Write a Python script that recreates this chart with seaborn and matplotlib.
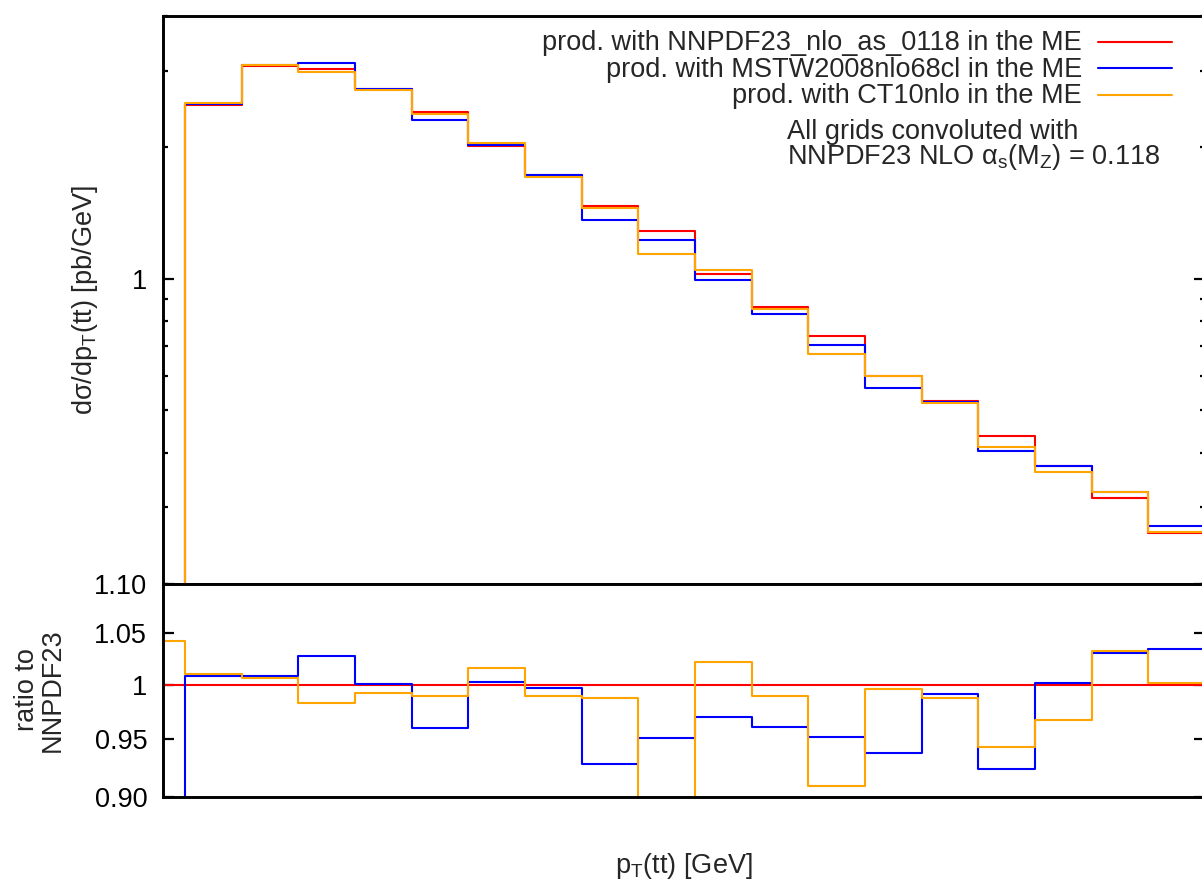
import numpy as np
import pandas as pd
import seaborn as sns
import matplotlib
matplotlib.use("Agg")
import matplotlib.pyplot as plt
from matplotlib.lines import Line2D
from matplotlib.ticker import FixedLocator, FixedFormatter, NullLocator, NullFormatter

# ---------------------------------------------------------------- data
# bin edges of the p_T(tt) histogram [GeV]
pt_edges = [0, 10, 20, 30, 40, 50, 60, 70, 80, 90, 100,
            110, 120, 130, 140, 150, 160, 170, 180, 190]

pdf_names = ["NNPDF23", "MSTW2008", "CT10"]
legend_labels = ["prod. with NNPDF23_nlo_as_0118 in the ME",
                 "prod. with MSTW2008nlo68cl in the ME",
                 "prod. with CT10nlo in the ME"]
line_colors = ["#ff0000", "#0000ff", "#ffa500"]

# d(sigma)/dp_T [pb/GeV] with NNPDF23 in the matrix element
xsec_nnpdf = [0.12, 2.50, 3.07, 3.03, 2.72, 2.41, 2.02, 1.73, 1.47, 1.29,
              1.025, 0.864, 0.741, 0.600, 0.526, 0.4375, 0.373, 0.315, 0.262]

# ratios of the other matrix-element PDFs to NNPDF23
ratio_mstw = [0.85, 1.0085, 1.0085, 1.0277, 1.0007, 0.9600, 1.0026, 0.9972,
              0.9279, 0.9515, 0.9700, 0.9609, 0.9524, 0.9381, 0.9915, 0.9238,
              1.0016, 1.0310, 1.0343]
ratio_ct10 = [1.0424, 1.0101, 1.0063, 0.9829, 0.9928, 0.9900, 1.0159, 0.9900,
              0.9881, 0.886, 1.0222, 0.9897, 0.9093, 0.9959, 0.9875, 0.9434,
              0.9672, 1.0326, 1.0016]

# ---------------------------------------------------------------- tables
nnpdf = np.array(xsec_nnpdf)
ratios = {
    "NNPDF23": np.ones_like(nnpdf),
    "MSTW2008": np.array(ratio_mstw),
    "CT10": np.array(ratio_ct10),
}

rows_xs, rows_ratio = [], []
for name in pdf_names:
    r = ratios[name]
    xs = nnpdf * r
    xs_steps = np.append(xs, xs[-1])
    r_steps = np.append(r, r[-1])
    for x, v, q in zip(pt_edges, xs_steps, r_steps):
        rows_xs.append({"pt": x, "value": v, "pdf": name})
        rows_ratio.append({"pt": x, "value": q, "pdf": name})
df_xs = pd.DataFrame(rows_xs)
df_ratio = pd.DataFrame(rows_ratio)

# ---------------------------------------------------------------- style
sns.set_theme(style="white")
plt.rcParams["font.family"] = ["Liberation Sans", "DejaVu Sans"]
plt.rcParams["mathtext.fontset"] = "custom"
plt.rcParams["mathtext.rm"] = "Liberation Sans"
plt.rcParams["mathtext.default"] = "regular"
plt.rcParams["axes.unicode_minus"] = False

FS = 19.5
W, H = 1202, 881
fig = plt.figure(figsize=(W / 100, H / 100), dpi=100)
fig.patch.set_facecolor("white")

left = 162.5 / W
width = (1205 - 162.5) / W
ax_top = fig.add_axes([left, (H - 584) / H, width, 568 / H])
ax_rat = fig.add_axes([left, (H - 796.7) / H, width, 212.7 / H])

palette = dict(zip(pdf_names, line_colors))
for ax, df in ((ax_top, df_xs), (ax_rat, df_ratio)):
    sns.lineplot(data=df, x="pt", y="value", hue="pdf", hue_order=pdf_names,
                 palette=palette, drawstyle="steps-post", estimator=None,
                 legend=False, linewidth=1.5, ax=ax)
    ax.set_yscale("log")
    ax.set_xlim(6, 190)
    ax.set_xlabel("")
    ax.set_ylabel("")
    ax.set_facecolor("white")
    for sp in ax.spines.values():
        sp.set_visible(True)
        sp.set_linewidth(2.1)
        sp.set_color("black")
    ax.tick_params(axis="x", which="both", bottom=False, top=False,
                   labelbottom=False)
    ax.tick_params(axis="y", which="both", direction="in", left=True,
                   right=True, labelright=False, labelsize=FS, pad=11,
                   width=1.6, colors="black")
    ax.tick_params(axis="y", which="major", length=7.7)
    ax.tick_params(axis="y", which="minor", length=3.6)

# upper panel: cross section
ax_top.set_ylim(0.2, 4.0)
ax_top.yaxis.set_major_locator(FixedLocator([1.0]))
ax_top.yaxis.set_major_formatter(FixedFormatter(["1"]))
ax_top.yaxis.set_minor_locator(FixedLocator(
    [0.2, 0.3, 0.4, 0.5, 0.6, 0.7, 0.8, 0.9, 2.0, 3.0, 4.0]))
ax_top.yaxis.set_minor_formatter(NullFormatter())

# lower panel: ratio
ax_rat.set_ylim(0.9, 1.1)
ax_rat.yaxis.set_major_locator(FixedLocator([0.90, 0.95, 1.0, 1.05, 1.10]))
ax_rat.yaxis.set_major_formatter(
    FixedFormatter(["0.90", "0.95", "1", "1.05", "1.10"]))
ax_rat.yaxis.set_minor_locator(NullLocator())

# axis titles
fig.text(85 / W, 1 - 300 / H, "dσ/dp$_T$(tt) [pb/GeV]", rotation=90,
         ha="center", va="center", fontsize=FS)
fig.text(40 / W, 1 - 690 / H, "ratio to\nNNPDF23", rotation=90,
         ha="center", va="center", fontsize=FS, linespacing=1.0)
fig.text(684 / W, 1 - 873 / H, "p$_T$(tt) [GeV]", ha="center",
         va="baseline", fontsize=FS)

# key: labels right-justified, line samples on the right
key_baselines = [50, 76.7, 103.3]
for label, color, yb in zip(legend_labels, line_colors, key_baselines):
    fig.text(1082 / W, 1 - yb / H, label, ha="right", va="baseline",
             fontsize=FS)
    yl = 1 - (yb - 8.5) / H
    fig.add_artist(Line2D([1098 / W, 1172 / W], [yl, yl], color=color,
                          linewidth=1.5, transform=fig.transFigure))

fig.text(787 / W, 1 - 138.5 / H, "All grids convoluted with", ha="left",
         va="baseline", fontsize=FS)
fig.text(787 / W, 1 - 163.5 / H, "NNPDF23 NLO α$_s$(M$_Z$) = 0.118",
         ha="left", va="baseline", fontsize=FS)

fig.savefig("out.png", dpi=100, facecolor="white")
